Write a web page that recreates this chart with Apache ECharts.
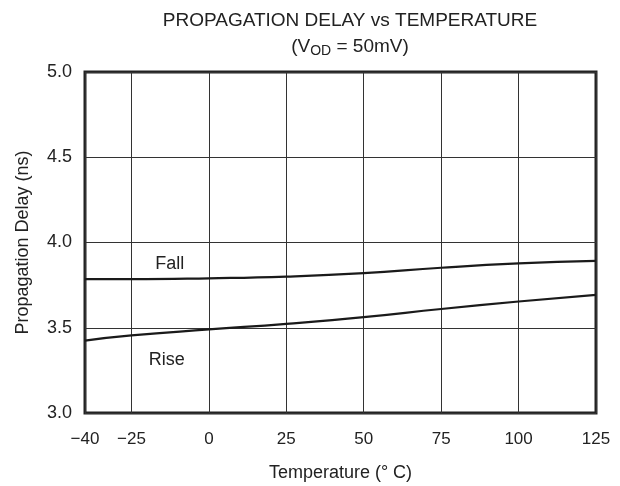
<!DOCTYPE html>
<html>
<head>
<meta charset="utf-8">
<script src="https://cdn.jsdelivr.net/npm/echarts@6/dist/echarts.min.js"></script>
<style>
  html, body { margin: 0; padding: 0; background: #fff; }
  #chart { width: 620px; height: 486px; }
</style>
</head>
<body>
<div id="chart"></div>
<script>
// values
const tempTicks = [-40, -25, 0, 25, 50, 75, 100, 125];
const fallTemp = [-40, -25, 0, 25, 50, 75, 100, 125];
const fallDelay = [3.785, 3.785, 3.79, 3.80, 3.82, 3.852, 3.877, 3.892];
const riseTemp = [-40, -25, 0, 25, 50, 75, 100, 125];
const riseDelay = [3.425, 3.455, 3.49, 3.523, 3.562, 3.61, 3.654, 3.693];
const labelNames = ['Fall', 'Rise'];
const labelTemp = [-12.6, -13.6];
const labelDelay = [3.875, 3.31];

const txt = '#222';
const font = 'Liberation Sans, Arial, sans-serif';

const pairs = (xs, ys) => xs.map((x, i) => [x, ys[i]]);

const chart = echarts.init(document.getElementById('chart'));
chart.setOption({
   animation: false,
   textStyle: { fontFamily: font, color: txt },
   title: {
      text: 'PROPAGATION DELAY vs TEMPERATURE',
      subtext: '{p|(V}{s|OD}{p| = 50mV)}',
      left: 345,
      textAlign: 'center',
      top: 6,
      itemGap: 5,
      textStyle: { fontSize: 19, fontWeight: 'normal', color: txt, fontFamily: font },
      subtextStyle: {
         rich: {
            p: { fontSize: 19, color: txt, fontFamily: font },
            s: { fontSize: 14, color: txt, fontFamily: font, padding: [9, 0, 0, 0] },
         }
      }
   },
   grid: {
      left: 85, right: 24, top: 72, bottom: 73,
      outerBoundsMode: 'none',
      show: true, borderColor: '#222', borderWidth: 3,
   },
   xAxis: {
      type: 'value',
      min: -40, max: 125,
      name: 'Temperature (° C)',
      nameLocation: 'middle',
      nameGap: 51,
      nameTextStyle: { fontSize: 18, color: txt },
      axisLine: { show: false },
      axisTick: { show: false, customValues: tempTicks },
      axisLabel: {
         customValues: tempTicks,
         fontSize: 17, color: txt, margin: 18,
         formatter: v => (v < 0 ? '\u2212' + Math.abs(v) : String(v)),
      },
      splitLine: { show: true, lineStyle: { color: '#333', width: 1 } },
   },
   yAxis: {
      type: 'value',
      min: 3, max: 5, interval: 0.5,
      name: 'Propagation Delay (ns)',
      nameLocation: 'middle',
      nameGap: 53,
      nameTextStyle: { fontSize: 18, color: txt },
      axisLine: { show: false },
      axisTick: { show: false },
      axisLabel: { fontSize: 18, color: txt, margin: 13, formatter: v => v.toFixed(1) },
      splitLine: { show: true, lineStyle: { color: '#333', width: 1 } },
   },
   series: [
      {
         type: 'line',
         name: 'Fall',
         data: pairs(fallTemp, fallDelay),
         smooth: true,
         symbol: 'none',
         lineStyle: { color: '#1a1a1a', width: 2.2 },
      },
      {
         type: 'line',
         name: 'Rise',
         data: pairs(riseTemp, riseDelay),
         smooth: true,
         symbol: 'none',
         lineStyle: { color: '#1a1a1a', width: 2.2 },
      },
      {
         type: 'scatter',
         name: 'labels',
         symbolSize: 1,
         silent: true,
         itemStyle: { opacity: 1, color: 'rgba(0,0,0,0)' },
         data: labelNames.map((n, i) => ({ name: n, value: [labelTemp[i], labelDelay[i]] })),
         label: {
            show: true, position: 'inside', formatter: '{b}',
            fontSize: 18, color: txt, fontFamily: font,
         },
      },
   ],
});
</script>
</body>
</html>
